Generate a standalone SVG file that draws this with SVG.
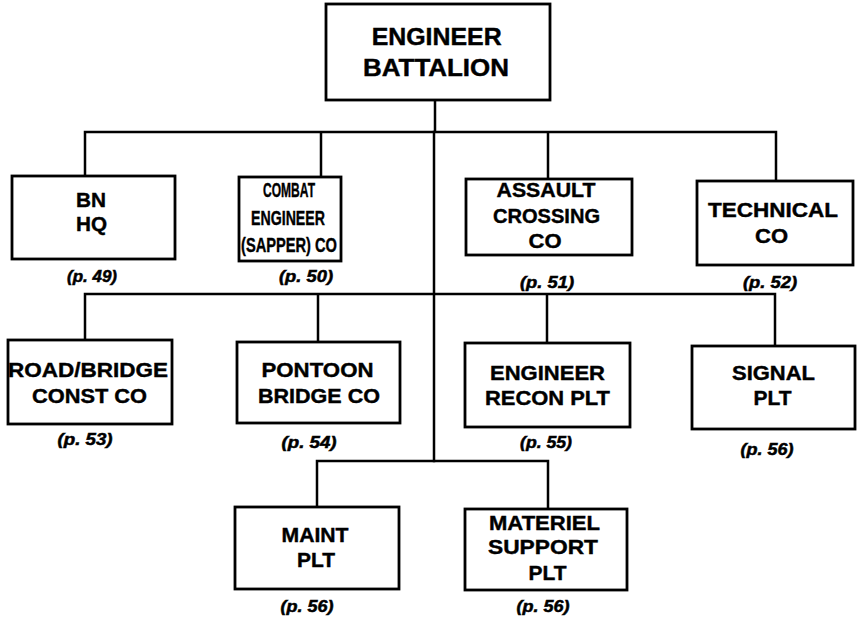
<svg xmlns="http://www.w3.org/2000/svg" width="857" height="624" viewBox="0 0 857 624">
<style>
.box{fill:#fff;stroke:#000;stroke-width:2.8}
.ln{fill:none;stroke:#000;stroke-width:2.5;stroke-linecap:square}
.t{font-family:"Liberation Sans",Arial,sans-serif;font-weight:bold;font-size:20px;text-anchor:middle;fill:#000;stroke:#000;stroke-width:0.4}
.big{font-size:23px}
.p{font-family:"Liberation Sans",Arial,sans-serif;font-weight:bold;font-style:italic;font-size:16px;text-anchor:middle;fill:#000;stroke:#000;stroke-width:0.5}
</style>
<rect width="857" height="624" fill="#fff"/>
<g id="connectors">
<path class="ln" d="M435 100V132M85 132H776M85 132V176M321 132V177M548 132V179M776 132V181"/>
<path class="ln" d="M434 132V461M85 294H775M85 294V340M318 294V342M547 294V343M775 294V346"/>
<path class="ln" d="M317 461H548M317 461V507M548 461V509"/>
</g>
<g id="battalion">
<rect class="box" x="326" y="4" width="224" height="96"/>
<text class="t big" x="436.7" y="45" textLength="130" lengthAdjust="spacingAndGlyphs">ENGINEER</text>
<text class="t big" x="436" y="76" textLength="146" lengthAdjust="spacingAndGlyphs">BATTALION</text>
</g>
<g id="bnhq">
<rect class="box" x="12" y="176" width="163" height="83"/>
<text class="t" x="91" y="207" textLength="30" lengthAdjust="spacingAndGlyphs">BN</text>
<text class="t" x="91.5" y="231" textLength="31" lengthAdjust="spacingAndGlyphs">HQ</text>
<text class="p" x="92" y="282" textLength="50" lengthAdjust="spacingAndGlyphs">(p. 49)</text>
</g>
<g id="combat">
<rect class="box" x="239" y="177" width="102" height="84"/>
<text class="t" x="289" y="197" textLength="52" lengthAdjust="spacingAndGlyphs">COMBAT</text>
<text class="t" x="288" y="225" textLength="74" lengthAdjust="spacingAndGlyphs">ENGINEER</text>
<text class="t" x="289" y="252" textLength="96" lengthAdjust="spacingAndGlyphs">(SAPPER) CO</text>
<text class="p" x="306" y="282" textLength="54" lengthAdjust="spacingAndGlyphs">(p. 50)</text>
</g>
<g id="assault">
<rect class="box" x="466" y="179" width="166" height="76"/>
<text class="t" x="546" y="197" textLength="99" lengthAdjust="spacingAndGlyphs">ASSAULT</text>
<text class="t" x="546.5" y="223" textLength="107" lengthAdjust="spacingAndGlyphs">CROSSING</text>
<text class="t" x="545" y="248" textLength="33" lengthAdjust="spacingAndGlyphs">CO</text>
<text class="p" x="547" y="288" textLength="54" lengthAdjust="spacingAndGlyphs">(p. 51)</text>
</g>
<g id="technical">
<rect class="box" x="697" y="181" width="156" height="84"/>
<text class="t" x="773" y="217" textLength="130" lengthAdjust="spacingAndGlyphs">TECHNICAL</text>
<text class="t" x="771.5" y="243" textLength="33" lengthAdjust="spacingAndGlyphs">CO</text>
<text class="p" x="770" y="288" textLength="54" lengthAdjust="spacingAndGlyphs">(p. 52)</text>
</g>
<g id="roadbridge">
<rect class="box" x="8" y="340" width="164" height="84"/>
<text class="t" x="88" y="377" textLength="160" lengthAdjust="spacingAndGlyphs">ROAD/BRIDGE</text>
<text class="t" x="89.5" y="403" textLength="115" lengthAdjust="spacingAndGlyphs">CONST CO</text>
<text class="p" x="85" y="445" textLength="55" lengthAdjust="spacingAndGlyphs">(p. 53)</text>
</g>
<g id="pontoon">
<rect class="box" x="237" y="342" width="163" height="81"/>
<text class="t" x="317.5" y="377" textLength="112" lengthAdjust="spacingAndGlyphs">PONTOON</text>
<text class="t" x="319" y="403" textLength="122" lengthAdjust="spacingAndGlyphs">BRIDGE CO</text>
<text class="p" x="309" y="448" textLength="55" lengthAdjust="spacingAndGlyphs">(p. 54)</text>
</g>
<g id="recon">
<rect class="box" x="465" y="343" width="165" height="84"/>
<text class="t" x="547.5" y="380" textLength="115" lengthAdjust="spacingAndGlyphs">ENGINEER</text>
<text class="t" x="547.5" y="405" textLength="125" lengthAdjust="spacingAndGlyphs">RECON PLT</text>
<text class="p" x="546" y="448" textLength="52" lengthAdjust="spacingAndGlyphs">(p. 55)</text>
</g>
<g id="signal">
<rect class="box" x="692" y="346" width="163" height="83"/>
<text class="t" x="773.5" y="380" textLength="83" lengthAdjust="spacingAndGlyphs">SIGNAL</text>
<text class="t" x="772.5" y="405" textLength="38" lengthAdjust="spacingAndGlyphs">PLT</text>
<text class="p" x="767" y="455" textLength="53" lengthAdjust="spacingAndGlyphs">(p. 56)</text>
</g>
<g id="maint">
<rect class="box" x="235" y="507" width="164" height="82"/>
<text class="t" x="315" y="542" textLength="67" lengthAdjust="spacingAndGlyphs">MAINT</text>
<text class="t" x="316" y="567" textLength="38" lengthAdjust="spacingAndGlyphs">PLT</text>
<text class="p" x="307" y="612" textLength="53" lengthAdjust="spacingAndGlyphs">(p. 56)</text>
</g>
<g id="materiel">
<rect class="box" x="465" y="509" width="162" height="81"/>
<text class="t" x="544.5" y="530" textLength="111" lengthAdjust="spacingAndGlyphs">MATERIEL</text>
<text class="t" x="543" y="554" textLength="110" lengthAdjust="spacingAndGlyphs">SUPPORT</text>
<text class="t" x="547.5" y="580" textLength="38" lengthAdjust="spacingAndGlyphs">PLT</text>
<text class="p" x="543" y="612" textLength="53" lengthAdjust="spacingAndGlyphs">(p. 56)</text>
</g>
</svg>
